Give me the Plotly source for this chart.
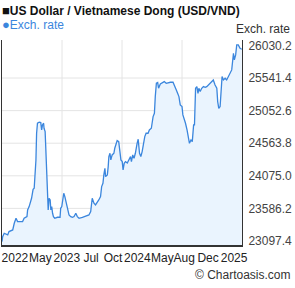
import plotly.graph_objects as go
import pandas as pd

# ---------------- data ----------------
START = "2022-05-20"
SPAN_DAYS = 1096

day_offsets = [
    0, 3, 10, 26, 32, 49, 56, 64, 71, 94, 101, 114, 117, 124, 135, 142, 147, 151, 155, 158,
    162, 170, 177, 181, 185, 190, 192, 197, 200, 205, 208, 211, 215, 220, 223, 227, 231, 235,
    241, 253, 265, 268, 273, 277, 282, 287, 291, 296, 300, 306, 314, 322, 329, 337, 344, 352,
    367, 382, 397, 405, 412, 420, 427, 442, 450, 455, 461, 465, 470, 473, 481, 485, 488, 493,
    497, 503, 511, 515, 522, 526, 533, 538, 543, 549, 553, 558, 564, 572, 579, 587, 591, 597,
    603, 609, 617, 622, 628, 634, 640, 647, 652, 658, 667, 673, 682, 690, 696, 700, 705, 711,
    715, 723, 731, 741, 750, 761, 769, 781, 787, 796, 802, 808, 814, 822, 826, 832, 838, 845,
    852, 856, 863, 869, 875, 879, 884, 890, 895, 899, 905, 912, 920, 928, 935, 943, 950, 958,
    965, 973, 981, 985, 990, 996, 1000, 1005, 1011, 1019, 1026, 1034, 1041, 1049, 1057, 1061,
    1067, 1072, 1079, 1087, 1095,
]

rates = [
    23088, 23162, 23213, 23188, 23238, 23263, 23363, 23438, 23388, 23388, 23438, 23463, 23563,
    23613, 23738, 23873, 23888, 24063, 24313, 24714, 24864, 24879, 24873, 24763, 24838, 24864,
    24788, 24738, 24463, 24113, 23763, 23563, 23738, 23713, 23563, 23613, 23513, 23463, 23438,
    23453, 23453, 23588, 23613, 23738, 23813, 23763, 23713, 23638, 23563, 23488, 23463, 23453,
    23463, 23513, 23463, 23438, 23453, 23473, 23488, 23538, 23738, 23663, 23638, 23713, 23763,
    23913, 23963, 24088, 24188, 24063, 24088, 24213, 24363, 24413, 24313, 24388, 24413, 24488,
    24588, 24603, 24588, 24388, 24313, 24288, 24163, 24263, 24288, 24268, 24313, 24363, 24288,
    24388, 24338, 24413, 24563, 24623, 24413, 24363, 24438, 24588, 24663, 24713, 24713, 24763,
    24788, 24963, 25013, 25263, 25463, 25473, 25388, 25453, 25473, 25488, 25463, 25473, 25478,
    25478, 25438, 25363, 25313, 25263, 25138, 25113, 24988, 24938, 24863, 24763, 24638, 24563,
    24613, 24588, 24838, 24838, 25388, 25413, 25313, 25388, 25338, 25388, 25413, 25403, 25413,
    25438, 25463, 25488, 25513, 25438, 25388, 25188, 25088, 25113, 25388, 25563, 25513, 25538,
    25513, 25563, 25613, 25663, 25913, 25813, 25888, 26038, 26038, 25988, 25973,
]

y_ticks = [23097.4, 23586.2, 24075.0, 24563.8, 25052.6, 25541.4, 26030.2]
y_range = [23037, 26112]

x_tick_days = [59, 175, 296, 407, 507, 618, 732, 832, 941, 1060]
x_tick_labels = ["2022", "May", "2023", "Jul", "Oct", "2024", "May", "Aug", "Dec", "2025"]
grid_days = [274, 548, 822]

# ---------------- build ----------------
start = pd.Timestamp(START)
to_date = lambda d: start + pd.to_timedelta(d, unit="D")
dates = [to_date(d) for d in day_offsets]

FONT = "Liberation Sans, Arial, sans-serif"
LINE = "#3b86dd"
FILL = "#eaf4fe"
GRID = "#e4e4e4"

fig = go.Figure()
fig.add_trace(go.Scatter(
    x=dates, y=rates, mode="lines",
    line=dict(color=LINE, width=1.3),
    fill="tozeroy", fillcolor=FILL,
    hoverinfo="skip", showlegend=False,
))

shapes = []
for d in grid_days:
    shapes.append(dict(type="line", xref="x", yref="paper",
                       x0=to_date(d), x1=to_date(d), y0=0, y1=1,
                       line=dict(color=GRID, width=1), layer="below"))
for v in y_ticks[1:-1]:
    shapes.append(dict(type="line", xref="paper", yref="y",
                       x0=0, x1=1, y0=v, y1=v,
                       line=dict(color=GRID, width=1), layer="below"))

fig.update_layout(
    width=295, height=288,
    margin=dict(l=2, r=53, t=40, b=43),
    paper_bgcolor="white", plot_bgcolor="white",
    font=dict(family=FONT, size=12, color="#333"),
    showlegend=False,
    shapes=shapes,
    xaxis=dict(
        type="date",
        range=[to_date(0), to_date(SPAN_DAYS)],
        tickvals=[to_date(d) for d in x_tick_days],
        ticktext=x_tick_labels,
        tickangle=0,
        showgrid=False, zeroline=False,
        showline=True, linecolor="#333", linewidth=2,
        ticks="outside", ticklen=1, tickcolor="rgba(0,0,0,0)",
        tickfont=dict(family=FONT, size=12, color="#222"),
    ),
    yaxis=dict(
        side="right",
        range=y_range,
        tickvals=y_ticks,
        ticktext=[f"{v:.1f}" for v in y_ticks],
        showgrid=False, zeroline=False,
        showline=True, mirror=True, linecolor="#333", linewidth=1,
        ticks="outside", ticklen=3, tickcolor="rgba(0,0,0,0)",
        tickfont=dict(family=FONT, size=12, color="#444"),
    ),
    annotations=[
        dict(text="<span style='font-size:13px'>■</span><b>US Dollar / Vietnamese Dong (USD/VND)</b>",
             xref="paper", yref="paper", x=-0.008, y=(245 - 10) / 205,
             xanchor="left", yanchor="middle", showarrow=False,
             font=dict(family=FONT, size=12, color="#111")),
        dict(text="<span style='font-size:13px'>●</span>Exch. rate",
             xref="paper", yref="paper", x=-0.008, y=(245 - 25) / 205,
             xanchor="left", yanchor="middle", showarrow=False,
             font=dict(family=FONT, size=12, color="#3b86dd")),
        dict(text="Exch. rate",
             xref="paper", yref="paper", x=(292 - 2) / 240, y=(245 - 29) / 205,
             xanchor="right", yanchor="middle", showarrow=False,
             font=dict(family=FONT, size=12, color="#333")),
        dict(text="© Chartoasis.com",
             xref="paper", yref="paper", x=(293 - 2) / 240, y=(245 - 275) / 205,
             xanchor="right", yanchor="middle", showarrow=False,
             font=dict(family=FONT, size=12, color="#333")),
    ],
)

fig.write_html("out.html")
